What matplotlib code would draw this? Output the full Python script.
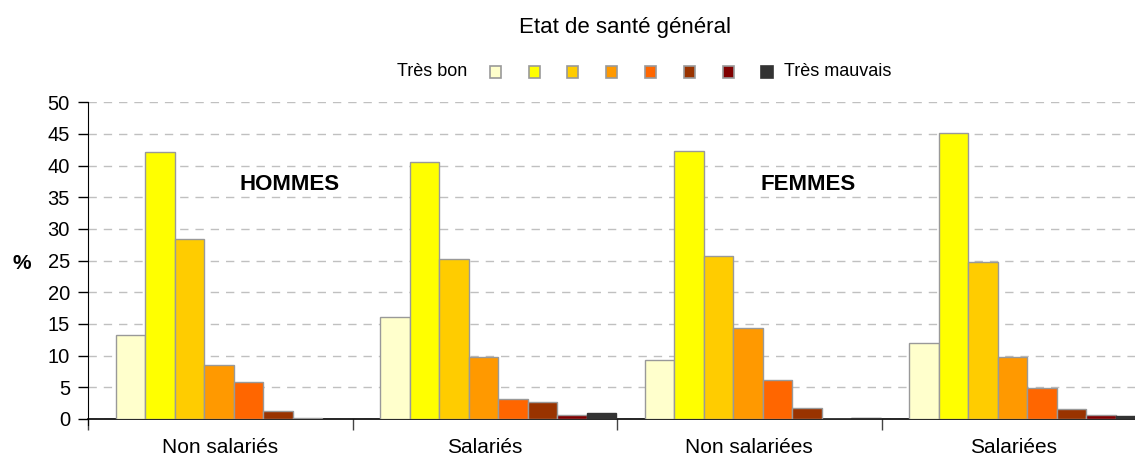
import matplotlib.pyplot as plt
from matplotlib.patches import Rectangle
import numpy as np

plt.rcParams['font.family'] = ['Liberation Sans', 'DejaVu Sans']

categories = ['Non salariés', 'Salariés', 'Non salariées', 'Salariées']
levels = ['Très bon', '2', '3', '4', '5', '6', '7', 'Très mauvais']
colors = ['#FFFFCC', '#FFFF00', '#FFCC00', '#FF9900', '#FF6600', '#993300', '#800000', '#333333']
edges = ['#999999'] * 7 + ['#333333']

# values per category, from "Très bon" to "Très mauvais"
non_salaries_h = [13.2, 42.2, 28.4, 8.5, 5.8, 1.2, 0.15, 0.05]
salaries_h = [16.1, 40.6, 25.3, 9.8, 3.2, 2.7, 0.6, 0.95]
non_salariees_f = [9.3, 42.3, 25.7, 14.4, 6.1, 1.7, 0.0, 0.1]
salariees_f = [11.95, 45.1, 24.8, 9.8, 4.85, 1.6, 0.7, 0.5]

values = np.array([non_salaries_h, salaries_h, non_salariees_f, salariees_f])

W, H = 1135, 466
fig = plt.figure(figsize=(W / 100, H / 100), dpi=100)
x0, y0, y50 = 88, 419, 102.3
cat_w = 264.5
ax = fig.add_axes([x0 / W, 1 - y0 / H, 4 * cat_w / W, (y0 - y50) / H])

bar_w = 0.1115
offset = 0.105
for j in range(len(levels)):
    ax.bar(np.arange(4) + offset + j * bar_w, values[:, j], width=bar_w, align='edge',
           color=colors[j], edgecolor=edges[j], linewidth=1, zorder=3)

ax.set_xlim(0, 4)
ax.set_ylim(0, 50)
ax.set_yticks(range(0, 51, 5))
ax.set_xticks(range(0, 5))
ax.set_xticklabels([])
ax.set_xticks(np.arange(4) + 0.5, minor=True)
ax.set_xticklabels(categories, minor=True, fontsize=15)
ax.tick_params(axis='x', which='minor', length=0, pad=14)
ax.tick_params(axis='x', which='major', length=8, width=1, color='#444444')
ax.tick_params(axis='y', length=7, width=1, labelsize=14.5, pad=6)
ax.grid(axis='y', color='#C0C0C0', linestyle=(0, (6, 5)), linewidth=1, zorder=0)
for s in ['top', 'right']:
    ax.spines[s].set_visible(False)
ax.spines['left'].set_bounds(-1, 50)
ax.spines['bottom'].set_linewidth(1.2)

ax.set_ylabel('%', rotation=0, fontsize=15, fontweight='bold', va='center')
ax.yaxis.set_label_coords(-0.063, 0.49)

fig.text(625 / W, 1 - 28 / H, 'Etat de santé général', ha='center', va='center', fontsize=16)
fig.text(290 / W, 1 - 184 / H, 'HOMMES', ha='center', va='center', fontsize=16, fontweight='bold')
fig.text(808 / W, 1 - 184 / H, 'FEMMES', ha='center', va='center', fontsize=16, fontweight='bold')

# legend
fig.text(467 / W, 1 - 72 / H, levels[0], ha='right', va='center', fontsize=13)
leg_x = [495, 534, 572, 611, 650, 689, 728, 767]
for j, lx in enumerate(leg_x):
    s = 12 if j == 7 else 11
    fig.patches.append(Rectangle(((lx - s / 2) / W, 1 - (72 + s / 2) / H), s / W, s / H,
                                 transform=fig.transFigure, facecolor=colors[j],
                                 edgecolor=edges[j], linewidth=1.2))
fig.text(784 / W, 1 - 72 / H, levels[-1], ha='left', va='center', fontsize=13)

fig.savefig('out.png', dpi=100)
